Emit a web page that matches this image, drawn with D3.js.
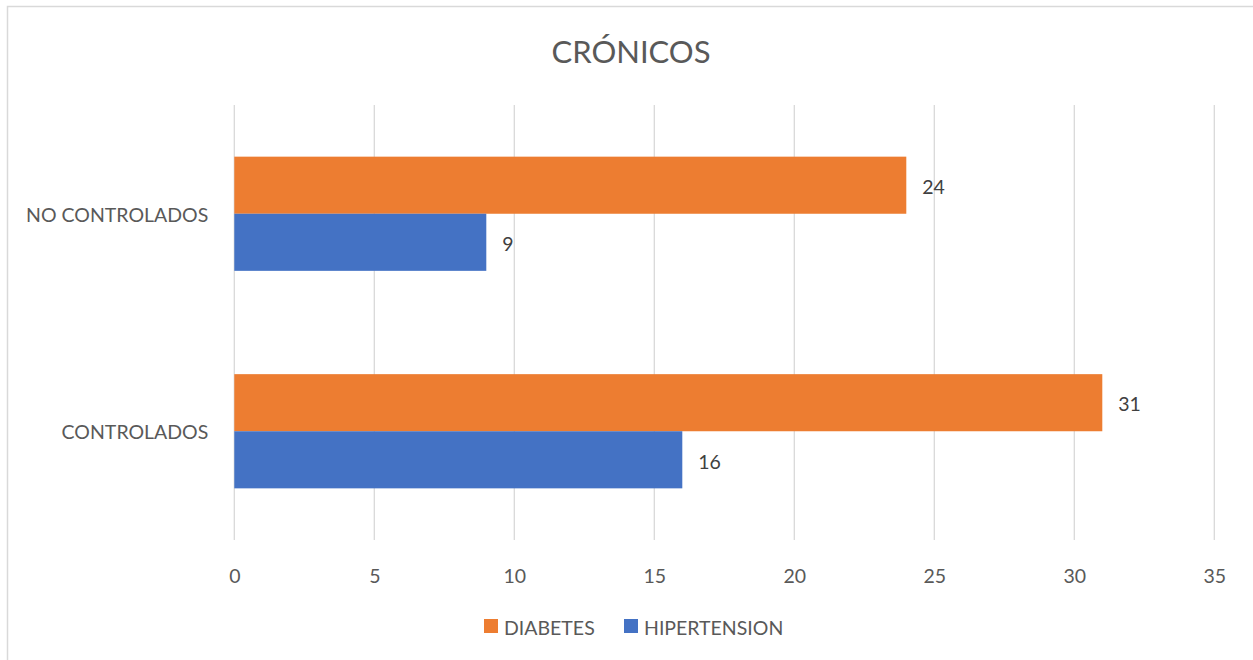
<!DOCTYPE html>
<html><head><meta charset="utf-8">
<script src="https://cdn.jsdelivr.net/npm/d3@7"></script>
<style>body{margin:0;background:#fff}svg{display:block}text{font-family:Lato,"Open Sans",sans-serif;fill:#595959}</style>
</head><body>
<script>
const categories = ["NO CONTROLADOS", "CONTROLADOS"];
const seriesNames = ["DIABETES", "HIPERTENSION"];
const diabetes = [24, 31];
const hipertension = [9, 16];
const xTicks = [0, 5, 10, 15, 20, 25, 30, 35];
const colors = ["#ED7D31", "#4472C4"];
const title = "CRÓNICOS";

const W = 1253, H = 660;
const FS = 19.5;
const svg = d3.select("body").append("svg").attr("width", W).attr("height", H);
svg.append("rect").attr("x", 7.5).attr("y", 6.5).attr("width", W).attr("height", H)
  .attr("fill", "#fff").attr("stroke", "#d9d9d9").attr("stroke-width", 1.5);

const m = {left: 234.3, right: 1214.3, top: 105, bottom: 540};
const x = d3.scaleLinear().domain([0, 35]).range([m.left, m.right]);
const y = d3.scaleBand().domain(categories).range([m.top, m.bottom]).paddingInner(0.475).paddingOuter(0.2375);
const ySub = d3.scaleBand().domain(seriesNames).range([0, y.bandwidth()]);

// gridlines
svg.append("g").selectAll("line").data(xTicks).join("line")
  .attr("x1", d => x(d)).attr("x2", d => x(d)).attr("y1", m.top).attr("y2", m.bottom)
  .attr("stroke", "#d9d9d9").attr("stroke-width", 1.3);

// x axis labels
const xAxis = d3.axisBottom(x).tickValues(xTicks).tickSize(0).tickPadding(0);
const gx = svg.append("g").attr("transform", `translate(0,${m.bottom})`).call(xAxis);
gx.select(".domain").remove();
gx.selectAll("text").attr("dy", null).attr("y", 43).attr("font-size", FS).style("fill", "#595959")
  .attr("font-family", "Lato, sans-serif");

// y axis labels
const yAxis = d3.axisLeft(y).tickSize(0).tickPadding(26);
const gy = svg.append("g").attr("transform", `translate(${m.left},0)`).call(yAxis);
gy.select(".domain").remove();
gy.selectAll("text").attr("font-size", FS).attr("dy", "0.4em").style("fill", "#595959")
  .attr("font-family", "Lato, sans-serif");

const data = categories.map((c, i) => ({cat: c, vals: [diabetes[i], hipertension[i]]}));
const g = svg.append("g");
data.forEach(d => {
  d.vals.forEach((v, j) => {
    const yy = y(d.cat) + ySub(seriesNames[j]);
    g.append("rect").attr("x", x(0)).attr("y", yy).attr("width", x(v) - x(0)).attr("height", ySub.bandwidth())
      .attr("fill", colors[j]);
    g.append("text").attr("x", x(v) + 16).attr("y", yy + ySub.bandwidth() / 2).attr("dy", "0.45em")
      .attr("font-size", FS).style("fill", "#404040").text(v);
  });
});

// title
svg.append("text").attr("x", 631).attr("y", 52).attr("dy", "0.35em").attr("text-anchor", "middle")
  .attr("font-size", 31).text(title);

// legend
const leg = svg.append("g");
const legX = [484, 624];
seriesNames.forEach((s, i) => {
  leg.append("rect").attr("x", legX[i]).attr("y", 619).attr("width", 14).attr("height", 14).attr("fill", colors[i]);
  leg.append("text").attr("x", legX[i] + 20).attr("y", 627).attr("dy", "0.4em").attr("font-size", FS).text(s);
});
</script>
</body></html>
